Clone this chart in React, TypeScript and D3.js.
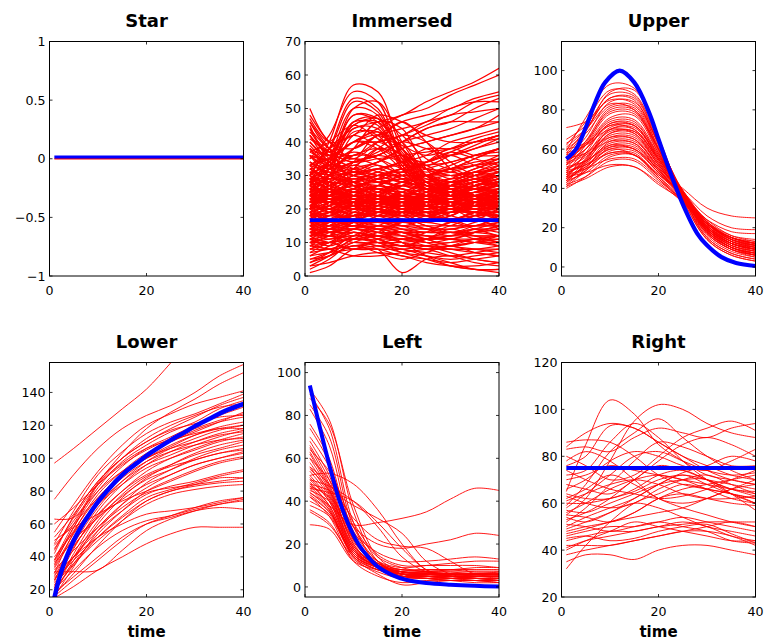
import React from "react";
import * as d3 from "d3";

// time points at which each red trajectory is sampled
const T9 = [1, 5, 10, 15, 20, 25, 30, 35, 40];
const X_TICKS = [0, 20, 40];

// ---------- Star ----------
const STAR_RED = [
  [0, 0, 0, 0, 0, 0, 0, 0, 0],
];
const STAR_BLUE_T = [1, 40];
const STAR_BLUE = [0, 0];
const STAR_Y_TICKS = [-1, -0.5, 0, 0.5, 1];

// ---------- Immersed ----------
const IMM_RED = [
  [30, 40, 57, 55, 38, 30, 28, 30, 32],
  [35, 42, 55, 52, 36, 28, 27, 28, 30],
  [28, 38, 53, 50, 35, 26, 24, 25, 27],
  [40, 36, 50, 52, 40, 30, 26, 24, 22],
  [25, 35, 50, 48, 32, 26, 26, 28, 30],
  [32, 34, 48, 46, 33, 27, 26, 27, 28],
  [22, 30, 46, 47, 36, 28, 25, 24, 24],
  [38, 33, 44, 44, 34, 28, 27, 26, 25],
  [20, 28, 42, 43, 34, 27, 24, 22, 22],
  [45, 36, 40, 42, 38, 30, 26, 24, 23],
  [25, 30, 38, 46, 44, 32, 26, 24, 24],
  [30, 28, 34, 42, 40, 30, 25, 23, 22],
  [22, 26, 32, 38, 36, 28, 24, 22, 22],
  [30, 38, 44, 46, 48, 52, 55, 58, 62],
  [28, 34, 40, 44, 48, 50, 54, 57, 60],
  [50, 40, 38, 42, 46, 48, 50, 53, 55],
  [46, 38, 36, 40, 42, 46, 48, 52, 54],
  [26, 30, 34, 36, 40, 44, 46, 50, 53],
  [36, 32, 34, 36, 40, 42, 44, 47, 50],
  [24, 28, 32, 34, 38, 40, 42, 44, 48],
  [44, 35, 32, 34, 38, 40, 42, 44, 46],
  [20, 26, 30, 32, 34, 36, 40, 42, 44],
  [38, 32, 30, 32, 34, 38, 38, 40, 42],
  [18, 22, 26, 30, 32, 34, 36, 38, 40],
  [34, 30, 28, 30, 30, 32, 34, 36, 38],
  [42, 34, 30, 28, 30, 34, 38, 36, 36],
  [28, 30, 32, 30, 28, 30, 32, 34, 35],
  [22, 24, 26, 24, 22, 22, 24, 26, 28],
  [20, 22, 24, 22, 20, 21, 22, 24, 26],
  [24, 26, 28, 26, 24, 24, 25, 26, 27],
  [18, 20, 22, 21, 20, 20, 21, 22, 24],
  [26, 24, 22, 22, 23, 24, 24, 25, 25],
  [16, 18, 20, 20, 19, 19, 20, 21, 22],
  [28, 26, 24, 23, 22, 22, 23, 24, 24],
  [21, 20, 20, 19, 19, 20, 21, 22, 23],
  [19, 21, 23, 22, 21, 22, 22, 23, 21],
  [23, 22, 21, 21, 20, 21, 22, 22, 22],
  [25, 23, 22, 20, 19, 19, 20, 21, 21],
  [17, 19, 21, 22, 22, 21, 20, 20, 20],
  [27, 25, 24, 24, 23, 22, 22, 21, 20],
  [20, 21, 22, 23, 24, 23, 22, 21, 20],
  [24, 22, 20, 19, 18, 18, 19, 19, 19],
  [18, 19, 19, 18, 18, 18, 19, 19, 18],
  [22, 22, 22, 22, 21, 21, 20, 20, 19],
  [26, 25, 24, 23, 22, 21, 20, 19, 18],
  [15, 16, 18, 19, 19, 18, 17, 17, 17],
  [30, 27, 25, 23, 22, 21, 20, 20, 21],
  [21, 23, 25, 26, 25, 24, 23, 22, 21],
  [19, 18, 18, 18, 17, 17, 17, 18, 18],
  [24, 24, 23, 22, 21, 20, 20, 21, 22],
  [33, 28, 25, 24, 23, 22, 22, 23, 24],
  [20, 20, 21, 21, 22, 22, 23, 24, 25],
  [17, 17, 18, 18, 18, 19, 20, 21, 22],
  [23, 24, 25, 25, 24, 23, 22, 21, 21],
  [29, 28, 27, 26, 25, 24, 24, 24, 25],
  [31, 30, 28, 27, 26, 25, 25, 26, 27],
  [25, 27, 29, 28, 27, 26, 26, 27, 28],
  [27, 29, 31, 30, 28, 27, 27, 28, 29],
  [22, 23, 24, 24, 23, 23, 23, 24, 24],
  [18, 20, 21, 20, 19, 19, 19, 20, 20],
  [14, 13, 13, 12, 12, 12, 12, 12, 12],
  [12, 12, 11, 11, 11, 11, 11, 11, 11],
  [15, 14, 14, 13, 13, 13, 13, 14, 14],
  [10, 11, 12, 12, 11, 10, 10, 11, 12],
  [8, 10, 14, 12, 10, 9, 9, 10, 10],
  [6, 9, 13, 11, 9, 8, 8, 8, 9],
  [4, 7, 12, 10, 8, 7, 6, 7, 8],
  [2, 5, 10, 9, 7, 6, 5, 6, 7],
  [1, 3, 8, 8, 6, 5, 4, 5, 6],
  [3, 4, 6, 7, 6, 4, 3, 3, 4],
  [5, 6, 9, 8, 1, 5, 6, 5, 4],
  [7, 8, 10, 9, 8, 6, 4, 2, 2],
  [9, 10, 11, 10, 9, 8, 6, 4, 3],
  [11, 12, 13, 12, 11, 9, 7, 5, 4],
  [13, 13, 14, 13, 12, 10, 8, 7, 6],
  [14, 14, 15, 14, 13, 12, 11, 10, 9],
  [12, 13, 14, 15, 14, 13, 13, 12, 12],
  [10, 10, 11, 12, 13, 13, 13, 13, 14],
  [8, 8, 9, 10, 11, 11, 11, 10, 10],
  [6, 7, 8, 9, 9, 9, 8, 8, 8],
  [15, 15, 15, 15, 15, 15, 15, 15, 15],
  [16, 15, 14, 14, 14, 14, 14, 15, 16],
  [13, 12, 10, 10, 10, 11, 12, 13, 14],
  [11, 10, 8, 8, 8, 9, 10, 11, 12],
  [9, 8, 6, 6, 7, 8, 9, 10, 11],
  [16, 16, 16, 16, 16, 16, 15, 15, 15],
  [14, 15, 16, 16, 15, 14, 13, 13, 12],
  [12, 14, 16, 15, 13, 11, 9, 8, 7],
  [3, 6, 11, 10, 7, 5, 3, 2, 1],
  [10, 12, 15, 14, 10, 6, 3, 2, 2],
  [40, 34, 30, 30, 32, 33, 34, 36, 38],
  [36, 30, 28, 30, 31, 30, 30, 31, 32],
  [32, 30, 31, 32, 33, 32, 31, 30, 30],
  [38, 33, 30, 28, 27, 28, 29, 30, 31],
  [42, 36, 33, 38, 42, 40, 34, 30, 28],
  [44, 38, 35, 40, 46, 40, 32, 28, 27],
  [34, 32, 34, 36, 34, 30, 28, 29, 30],
  [26, 30, 38, 40, 36, 30, 27, 26, 26],
  [46, 38, 28, 26, 28, 30, 32, 33, 34],
  [30, 34, 40, 38, 32, 28, 28, 30, 33],
  [27, 32, 36, 35, 30, 27, 26, 27, 28],
  [43, 37, 34, 35, 36, 37, 38, 40, 42],
  [21, 24, 28, 30, 30, 30, 31, 33, 36],
  [23, 25, 27, 28, 29, 30, 32, 35, 38],
  [39, 33, 27, 24, 24, 25, 27, 29, 30],
  [48, 40, 35, 36, 40, 44, 46, 46, 46],
  [47, 40, 42, 48, 46, 42, 40, 40, 41],
  [37, 34, 31, 29, 26, 24, 24, 25, 26],
  [31, 27, 24, 22, 22, 23, 25, 27, 30],
  [29, 26, 23, 21, 20, 21, 23, 25, 28],
  [20, 23, 19, 22, 25, 21, 18, 22, 24],
  [17, 21, 24, 20, 18, 22, 25, 23, 20],
  [25, 21, 18, 22, 24, 20, 19, 23, 26],
  [13, 16, 20, 23, 19, 16, 18, 21, 19],
  [28, 24, 27, 23, 20, 23, 26, 24, 22],
  [19, 15, 18, 21, 24, 22, 18, 17, 20],
  [22, 26, 23, 19, 21, 25, 27, 24, 21],
  [16, 19, 22, 25, 27, 24, 21, 19, 18],
  [24, 20, 17, 19, 22, 24, 22, 20, 23],
  [11, 14, 17, 16, 19, 21, 20, 17, 15],
  [27, 23, 21, 24, 26, 23, 21, 23, 26],
  [14, 17, 15, 18, 21, 19, 17, 19, 22],
  [21, 18, 22, 26, 23, 20, 22, 25, 27],
  [18, 22, 26, 24, 20, 17, 19, 22, 20],
  [30, 26, 23, 25, 28, 26, 24, 27, 29],
  [12, 15, 19, 17, 15, 17, 20, 18, 16],
  [23, 27, 31, 28, 24, 22, 25, 28, 30],
  [26, 22, 20, 23, 27, 29, 26, 23, 22],
  [15, 13, 16, 20, 22, 19, 16, 18, 21],
  [19, 23, 21, 18, 20, 23, 21, 19, 17],
  [29, 31, 28, 25, 27, 30, 32, 29, 27],
  [10, 13, 16, 19, 17, 14, 16, 19, 17],
  [24, 22, 25, 27, 24, 21, 23, 26, 24],
  [17, 20, 18, 16, 19, 22, 24, 21, 18],
  [32, 28, 25, 27, 30, 28, 26, 28, 31],
  [13, 11, 14, 17, 15, 13, 15, 17, 14],
  [22, 25, 29, 26, 23, 25, 28, 26, 23],
  [27, 25, 22, 20, 23, 26, 24, 22, 25],
  [16, 18, 21, 24, 22, 20, 23, 25, 23],
  [20, 17, 15, 18, 20, 18, 16, 18, 19],
  [34, 30, 27, 29, 32, 30, 28, 30, 33],
  [9, 12, 15, 13, 11, 13, 16, 14, 12],
  [25, 28, 26, 23, 25, 28, 30, 27, 25],
  [18, 16, 19, 22, 20, 18, 20, 22, 21],
  [31, 27, 30, 33, 30, 27, 29, 32, 34],
  [14, 16, 18, 21, 23, 21, 19, 21, 24],
  [23, 19, 21, 24, 27, 25, 22, 21, 24],
  [28, 30, 33, 31, 28, 26, 28, 31, 33],
  [12, 14, 12, 15, 17, 15, 13, 15, 17],
  [26, 29, 27, 24, 22, 24, 27, 29, 27],
  [19, 21, 24, 27, 25, 22, 24, 27, 29],
  [15, 18, 16, 14, 16, 19, 17, 15, 18],
  [33, 35, 32, 29, 31, 34, 36, 33, 31],
  [21, 24, 22, 20, 23, 21, 19, 22, 25],
  [11, 9, 12, 15, 13, 11, 12, 14, 13],
  [29, 26, 24, 27, 29, 27, 25, 27, 29],
  [17, 14, 17, 20, 18, 16, 18, 21, 23],
  [24, 27, 30, 32, 29, 26, 24, 26, 28],
  [36, 33, 36, 38, 34, 31, 33, 36, 37],
  [7, 10, 13, 11, 9, 11, 13, 11, 9],
  [20, 22, 25, 23, 21, 24, 26, 24, 22],
  [27, 24, 21, 19, 21, 24, 27, 30, 32],
  [13, 15, 18, 20, 18, 15, 14, 16, 18],
  [38, 36, 40, 43, 39, 36, 38, 41, 43],
  [22, 20, 23, 25, 28, 30, 28, 26, 27],
  [16, 13, 11, 13, 16, 14, 12, 14, 16],
  [30, 34, 37, 35, 32, 30, 32, 35, 38],
  [5, 7, 10, 12, 10, 8, 9, 11, 10],
  [25, 23, 26, 29, 26, 23, 21, 23, 26],
  [18, 20, 23, 21, 24, 26, 24, 22, 20],
  [41, 37, 34, 37, 40, 38, 36, 38, 41],
  [35, 38, 42, 39, 35, 33, 36, 39, 42],
  [10, 8, 11, 14, 12, 10, 11, 13, 15],
  [23, 25, 22, 19, 21, 18, 17, 19, 22],
  [32, 29, 31, 34, 36, 33, 30, 32, 35],
  [14, 12, 14, 16, 14, 12, 11, 13, 15],
  [26, 24, 26, 29, 32, 29, 27, 29, 31],
  [19, 17, 20, 23, 21, 19, 21, 24, 26],
  [8, 10, 8, 11, 13, 11, 9, 10, 12],
  [29, 32, 35, 33, 31, 34, 37, 35, 33],
  [21, 19, 17, 19, 22, 24, 21, 19, 21],
  [37, 40, 45, 41, 36, 34, 37, 40, 42],
  [12, 10, 13, 11, 9, 11, 14, 12, 10],
  [24, 26, 24, 22, 25, 27, 25, 23, 25],
  [17, 19, 17, 20, 18, 21, 23, 20, 19],
  [33, 31, 29, 31, 34, 32, 29, 31, 34],
  [4, 6, 9, 7, 5, 7, 9, 7, 6],
  [28, 25, 28, 31, 29, 26, 28, 31, 29],
  [15, 17, 20, 18, 16, 18, 20, 22, 20],
  [20, 24, 28, 25, 22, 19, 21, 24, 23],
  [33, 38, 52, 49, 35, 27, 25, 27, 29],
  [27, 34, 48, 47, 37, 30, 28, 29, 31],
  [36, 35, 46, 45, 33, 26, 24, 26, 28],
  [24, 32, 45, 46, 38, 32, 30, 31, 32],
  [31, 33, 43, 42, 32, 25, 23, 24, 25],
  [42, 37, 45, 47, 42, 35, 32, 33, 35],
  [29, 33, 38, 42, 44, 46, 50, 52, 52],
  [33, 35, 40, 40, 42, 45, 48, 49, 50],
];
const IMM_BLUE_T = [1, 40];
const IMM_BLUE = [16.7, 16.7];
const IMM_Y_TICKS = [0, 10, 20, 30, 40, 50, 60, 70];

// ---------- Upper ----------
const UPPER_RED = [
  [59, 76, 93, 91, 66, 35, 14, 6, 3],
  [62, 74, 90, 88, 64, 36, 15, 7, 4],
  [71, 74, 85, 83, 63, 38, 18, 9, 5],
  [65, 72, 88, 87, 63, 37, 17, 9, 6],
  [58, 70, 86, 86, 62, 36, 16, 8, 5],
  [55, 66, 84, 84, 63, 38, 18, 10, 7],
  [60, 68, 82, 82, 61, 37, 19, 11, 8],
  [52, 64, 81, 81, 60, 37, 17, 9, 6],
  [56, 64, 79, 79, 58, 36, 18, 10, 7],
  [50, 62, 78, 78, 60, 39, 20, 12, 9],
  [54, 62, 76, 77, 58, 38, 20, 11, 8],
  [48, 60, 75, 75, 57, 37, 19, 10, 6],
  [57, 62, 74, 74, 56, 38, 21, 13, 10],
  [45, 58, 73, 73, 57, 38, 20, 12, 9],
  [52, 60, 72, 72, 55, 37, 19, 12, 10],
  [49, 57, 71, 72, 56, 39, 22, 14, 11],
  [60, 63, 72, 70, 54, 36, 18, 10, 7],
  [46, 55, 70, 70, 54, 37, 21, 13, 9],
  [53, 58, 69, 69, 53, 36, 20, 12, 8],
  [43, 53, 68, 69, 55, 39, 23, 14, 11],
  [50, 56, 67, 67, 52, 37, 21, 14, 12],
  [47, 54, 66, 66, 52, 37, 22, 15, 12],
  [44, 52, 65, 65, 51, 36, 20, 12, 9],
  [55, 58, 66, 65, 50, 35, 19, 11, 8],
  [42, 50, 64, 64, 51, 37, 22, 14, 10],
  [48, 53, 63, 63, 50, 36, 21, 13, 11],
  [45, 51, 62, 62, 49, 36, 22, 15, 13],
  [41, 49, 61, 61, 49, 37, 23, 15, 12],
  [51, 54, 61, 60, 48, 35, 20, 12, 9],
  [46, 51, 60, 60, 48, 36, 22, 14, 11],
  [43, 49, 59, 59, 48, 37, 24, 16, 13],
  [49, 52, 58, 58, 46, 34, 20, 13, 10],
  [44, 48, 57, 57, 46, 35, 22, 15, 12],
  [40, 46, 56, 57, 47, 36, 23, 16, 14],
  [47, 50, 55, 55, 45, 34, 22, 14, 11],
  [42, 46, 54, 54, 44, 34, 22, 15, 12],
  [46, 48, 52, 51, 43, 33, 22, 15, 12],
  [41, 45, 51, 51, 42, 34, 24, 18, 17],
  [50, 54, 62, 60, 50, 40, 30, 26, 25],
  [48, 52, 60, 57, 47, 38, 26, 20, 19],
  [61, 70, 86, 85, 60, 34, 14, 6, 3],
  [57, 69, 89, 90, 65, 36, 15, 7, 4],
  [63, 70, 83, 80, 59, 35, 17, 9, 6],
  [53, 63, 80, 80, 60, 38, 19, 10, 7],
  [44, 54, 70, 71, 55, 38, 22, 13, 10],
  [58, 62, 70, 68, 52, 36, 19, 11, 7],
  [47, 55, 68, 68, 53, 38, 23, 15, 11],
  [52, 57, 64, 63, 49, 36, 21, 12, 9],
  [45, 50, 58, 57, 45, 33, 20, 12, 9],
  [54, 60, 73, 72, 55, 37, 18, 10, 6],
];
const UPPER_BLUE_T = [1, 3, 5, 7, 9, 12, 15, 18, 20, 22, 25, 28, 30, 33, 36, 40];
const UPPER_BLUE = [55, 60, 71, 84, 94, 100, 94, 79, 65, 51, 32, 17, 11, 5, 2, 0.5];
const UPPER_Y_TICKS = [0, 20, 40, 60, 80, 100];

// ---------- Lower ----------
const LOWER_RED = [
  [97, 106, 118, 130, 142, 158, 175, 185, 195],
  [75, 90, 106, 118, 126, 132, 140, 150, 157],
  [63, 64, 85, 103, 118, 128, 136, 145, 152],
  [55, 72, 92, 108, 120, 127, 133, 137, 141],
  [48, 68, 90, 104, 115, 122, 127, 133, 139],
  [42, 65, 86, 100, 110, 118, 125, 132, 137],
  [38, 60, 82, 98, 108, 116, 122, 130, 135],
  [35, 58, 80, 95, 106, 113, 120, 126, 131],
  [30, 55, 78, 92, 103, 110, 116, 122, 128],
  [25, 50, 74, 90, 102, 110, 117, 122, 125],
  [45, 62, 80, 92, 100, 107, 114, 119, 122],
  [28, 48, 70, 86, 98, 106, 112, 117, 120],
  [22, 45, 68, 84, 96, 104, 110, 115, 118],
  [33, 52, 72, 86, 96, 102, 108, 113, 117],
  [20, 42, 65, 80, 92, 100, 106, 111, 115],
  [40, 55, 72, 84, 94, 100, 105, 110, 113],
  [18, 38, 60, 76, 88, 96, 103, 108, 111],
  [26, 46, 66, 80, 90, 96, 102, 106, 110],
  [16, 34, 56, 72, 85, 93, 100, 105, 108],
  [30, 47, 64, 77, 87, 93, 99, 103, 106],
  [36, 50, 64, 75, 84, 90, 96, 100, 104],
  [24, 40, 58, 72, 82, 90, 96, 100, 103],
  [19, 36, 54, 68, 80, 87, 93, 98, 101],
  [50, 58, 66, 74, 80, 86, 92, 97, 100],
  [27, 40, 56, 68, 78, 83, 86, 90, 93],
  [21, 35, 52, 65, 76, 81, 85, 89, 92],
  [32, 44, 58, 70, 79, 82, 84, 86, 88],
  [17, 30, 47, 62, 74, 80, 83, 85, 86],
  [23, 36, 50, 62, 72, 78, 81, 83, 84],
  [29, 40, 52, 60, 66, 68, 70, 73, 76],
  [20, 32, 46, 56, 62, 65, 69, 72, 75],
  [31, 31, 32, 44, 56, 63, 68, 72, 74],
  [18, 28, 40, 52, 60, 64, 68, 70, 69],
  [15, 22, 32, 40, 48, 54, 58, 58, 58],
  [16, 26, 38, 50, 60, 65, 70, 74, 76],
  [26, 38, 52, 64, 74, 80, 84, 88, 88],
  [37, 56, 76, 90, 100, 108, 114, 118, 120],
  [60, 70, 84, 96, 105, 112, 118, 123, 127],
  [44, 64, 84, 97, 106, 111, 115, 118, 118],
  [34, 54, 74, 88, 98, 104, 108, 111, 112],
  [21, 40, 62, 78, 89, 95, 99, 103, 105],
  [47, 60, 76, 90, 100, 106, 110, 114, 116],
  [38, 58, 84, 100, 112, 120, 126, 131, 133],
  [52, 66, 86, 100, 110, 117, 121, 125, 126],
];
const LOWER_BLUE_T = [1, 2, 3, 4, 5, 6, 7, 8, 10, 12, 14, 16, 18, 20, 22, 25, 28, 30, 33, 36, 40];
const LOWER_BLUE = [15, 27, 36, 43.5, 50, 55.5, 60.5, 65, 73.5, 80.5, 87, 92.5, 97, 101.5, 105.5, 111, 116, 119.5, 124, 128.5, 133];
const LOWER_Y_TICKS = [20, 40, 60, 80, 100, 120, 140];

// ---------- Left ----------
const LEFT_RED = [
  [92, 78, 35, 12, 6, 4, 3, 3, 2],
  [90, 74, 30, 10, 5, 4, 3, 2, 2],
  [85, 70, 28, 12, 6, 5, 4, 3, 3],
  [83, 66, 25, 10, 5, 4, 3, 3, 2],
  [76, 60, 24, 11, 6, 5, 4, 4, 3],
  [74, 58, 22, 10, 5, 4, 4, 3, 3],
  [68, 52, 22, 10, 6, 5, 5, 4, 4],
  [66, 50, 20, 10, 6, 5, 4, 4, 3],
  [65, 48, 21, 11, 7, 6, 5, 5, 5],
  [63, 47, 20, 9, 5, 5, 4, 4, 4],
  [62, 46, 19, 10, 6, 6, 6, 5, 5],
  [60, 45, 18, 9, 6, 5, 5, 5, 4],
  [58, 44, 19, 10, 7, 7, 6, 6, 6],
  [56, 43, 18, 9, 6, 6, 5, 5, 5],
  [54, 42, 17, 10, 7, 6, 6, 6, 7],
  [52, 41, 18, 11, 7, 7, 7, 7, 7],
  [51, 40, 17, 9, 5, 5, 5, 5, 5],
  [50, 40, 16, 10, 7, 7, 8, 8, 8],
  [49, 38, 17, 11, 8, 8, 8, 9, 9],
  [48, 38, 16, 9, 6, 6, 6, 6, 6],
  [47, 37, 15, 9, 7, 7, 7, 6, 6],
  [46, 44, 40, 30, 18, 8, 5, 4, 4],
  [44, 38, 29, 30, 32, 35, 41, 46, 45],
  [44, 36, 15, 9, 6, 6, 6, 6, 6],
  [43, 35, 15, 8, 5, 5, 5, 5, 5],
  [42, 35, 16, 10, 8, 8, 8, 8, 8],
  [40, 34, 14, 8, 6, 6, 6, 6, 6],
  [38, 33, 15, 9, 7, 7, 6, 6, 6],
  [36, 30, 13, 7, 4, 4, 4, 4, 4],
  [35, 29, 14, 8, 6, 6, 6, 6, 6],
  [29, 27, 12, 8, 6, 6, 6, 6, 6],
  [52, 53, 48, 36, 20, 8, 5, 4, 4],
  [50, 47, 40, 28, 14, 7, 5, 4, 3],
  [48, 45, 38, 32, 25, 12, 6, 4, 4],
  [56, 48, 32, 22, 19, 18, 12, 6, 5],
  [47, 42, 28, 20, 18, 20, 22, 25, 24],
  [45, 40, 25, 16, 12, 12, 13, 14, 13],
  [55, 45, 22, 12, 9, 10, 11, 12, 12],
  [60, 50, 28, 14, 9, 7, 6, 5, 5],
  [70, 56, 26, 12, 8, 8, 8, 7, 7],
  [88, 76, 38, 14, 7, 6, 5, 5, 5],
  [64, 54, 30, 15, 10, 10, 10, 10, 9],
  [46, 36, 14, 6, 1, 2, 3, 3, 3],
  [42, 33, 12, 5, 2, 3, 3, 3, 3],
];
const LEFT_BLUE_T = [1, 3, 5, 7, 9, 11, 13, 15, 18, 21, 25, 30, 35, 40];
const LEFT_BLUE = [94, 75, 57, 41, 29, 20, 14, 9.5, 5.5, 3.2, 1.8, 1, 0.5, 0.2];
const LEFT_Y_TICKS = [0, 20, 40, 60, 80, 100];

// ---------- Right ----------
const RIGHT_RED = [
  [65, 85, 104, 98, 85, 78, 72, 70, 68],
  [55, 62, 78, 95, 102, 100, 94, 90, 88],
  [86, 87, 86, 80, 72, 68, 66, 64, 62],
  [83, 84, 82, 88, 92, 90, 88, 92, 94],
  [80, 76, 70, 72, 80, 88, 92, 95, 91],
  [76, 80, 93, 92, 86, 80, 76, 72, 70],
  [72, 74, 86, 94, 88, 78, 70, 64, 60],
  [68, 66, 64, 70, 78, 85, 88, 85, 80],
  [66, 70, 78, 82, 80, 76, 74, 78, 83],
  [64, 62, 62, 66, 72, 74, 70, 66, 63],
  [62, 66, 72, 68, 62, 58, 55, 52, 50],
  [60, 60, 62, 65, 70, 72, 70, 68, 66],
  [58, 64, 72, 80, 82, 78, 74, 72, 73],
  [56, 60, 66, 70, 72, 70, 68, 66, 64],
  [54, 52, 56, 62, 68, 73, 76, 80, 78],
  [52, 58, 68, 78, 86, 84, 80, 76, 76],
  [50, 54, 58, 62, 68, 72, 68, 64, 62],
  [48, 50, 52, 56, 62, 66, 68, 70, 72],
  [46, 48, 50, 50, 52, 54, 52, 50, 48],
  [44, 46, 48, 48, 50, 51, 52, 52, 52],
  [41, 44, 46, 48, 50, 52, 50, 46, 44],
  [38, 40, 42, 44, 46, 48, 48, 46, 42],
  [35, 38, 38, 36, 40, 42, 42, 40, 38],
  [32, 42, 52, 60, 64, 68, 66, 64, 60],
  [84, 90, 94, 92, 86, 80, 74, 70, 68],
  [63, 60, 58, 60, 66, 70, 72, 68, 64],
  [57, 56, 60, 64, 68, 70, 70, 64, 57],
  [49, 52, 56, 60, 58, 54, 50, 48, 46],
  [45, 46, 44, 45, 48, 50, 51, 47, 43],
  [59, 68, 82, 90, 96, 88, 80, 74, 70],
  [53, 56, 62, 70, 76, 74, 70, 66, 65],
  [61, 64, 68, 70, 68, 64, 62, 62, 63],
  [47, 49, 52, 54, 56, 58, 62, 66, 70],
  [42, 42, 42, 44, 46, 48, 50, 52, 50],
  [70, 72, 76, 74, 72, 70, 66, 62, 60],
  [51, 50, 48, 50, 52, 50, 48, 44, 43],
  [78, 82, 78, 70, 62, 60, 62, 66, 68],
  [55, 54, 52, 56, 62, 64, 62, 60, 59],
  [74, 70, 66, 64, 62, 63, 66, 70, 74],
  [40, 44, 48, 52, 50, 48, 46, 44, 44],
];
const RIGHT_BLUE_T = [1, 40];
const RIGHT_BLUE = [75, 75];
const RIGHT_Y_TICKS = [20, 40, 60, 80, 100, 120];

const FONT = "'DejaVu Sans', Verdana, sans-serif";

type PanelProps = {
  id: string;
  title: string;
  left: number;
  top: number;
  yDomain: [number, number];
  yTicks: number[];
  yFmt?: (v: number) => string;
  red: number[][];
  blueT: number[];
  blue: number[];
  blueWidth: number;
  blueShift?: number;
  redWidth?: number;
  xLabel?: boolean;
};

const W = 194;
const H = 234.5;
const TICK = 3;

function Panel(p: PanelProps) {
  const x = d3.scaleLinear().domain([0, 40]).range([p.left, p.left + W]);
  const y = d3.scaleLinear().domain(p.yDomain).range([p.top + H, p.top]);
  const line = d3
    .line<[number, number]>()
    .x((d) => x(d[0]))
    .y((d) => y(d[1]))
    .curve(d3.curveCatmullRom.alpha(0.5));
  const fmt = p.yFmt ?? ((v: number) => String(v));
  const bottom = p.top + H;
  const right = p.left + W;
  return (
    <g>
      <defs>
        <clipPath id={p.id}>
          <rect x={p.left} y={p.top} width={W} height={H} />
        </clipPath>
      </defs>
      <g clipPath={`url(#${p.id})`}>
        {p.red.map((r, i) => (
          <path
            key={i}
            d={line(T9.map((t, j) => [t, r[j]] as [number, number])) || ""}
            fill="none"
            stroke="#ff0000"
            strokeWidth={p.redWidth ?? 0.9}
          />
        ))}
        <path
          d={line(p.blueT.map((t, j) => [t, p.blue[j]] as [number, number])) || ""}
          fill="none"
          stroke="#0000ff"
          strokeWidth={p.blueWidth}
          transform={p.blueShift ? `translate(0,${p.blueShift})` : undefined}
        />
      </g>
      <rect x={p.left} y={p.top} width={W} height={H} fill="none" stroke="#000" strokeWidth={1} />
      {X_TICKS.map((t) => (
        <g key={"x" + t}>
          <line x1={x(t)} x2={x(t)} y1={bottom} y2={bottom - TICK} stroke="#000" strokeWidth={0.8} />
          <line x1={x(t)} x2={x(t)} y1={p.top} y2={p.top + TICK} stroke="#000" strokeWidth={0.8} />
          <text x={x(t)} y={bottom + 19} textAnchor="middle" fontSize={12.6} fontFamily={FONT} fill="#000">
            {t}
          </text>
        </g>
      ))}
      {p.yTicks.map((v) => (
        <g key={"y" + v}>
          <line x1={p.left} x2={p.left + TICK} y1={y(v)} y2={y(v)} stroke="#000" strokeWidth={0.8} />
          <line x1={right} x2={right - TICK} y1={y(v)} y2={y(v)} stroke="#000" strokeWidth={0.8} />
          <text
            x={p.left - 4}
            y={y(v) + 4.6}
            textAnchor="end"
            fontSize={12.6}
            fontFamily={FONT}
            fill="#000"
          >
            {fmt(v)}
          </text>
        </g>
      ))}
      <text
        x={p.left + W / 2}
        y={p.top - 14.5}
        textAnchor="middle"
        fontSize={18}
        fontWeight="bold"
        fontFamily={FONT}
        fill="#000"
      >
        {p.title}
      </text>
      {p.xLabel && (
        <text
          x={p.left + W / 2}
          y={bottom + 40}
          textAnchor="middle"
          fontSize={15}
          fontWeight="bold"
          fontFamily={FONT}
          fill="#000"
        >
          time
        </text>
      )}
    </g>
  );
}

const starFmt = (v: number) => (v < 0 ? "\u2212" + String(-v) : String(v));

export default function App() {
  const cols = [49.5, 305, 561.5];
  const rows = [41.5, 362.5];
  return (
    <svg
      width={765}
      height={642}
      style={{ position: "absolute", left: 0, top: 0, background: "#fff" }}
    >
      <rect x={0} y={0} width={765} height={642} fill="#fff" />
      <Panel id="c1" title="Star" left={cols[0]} top={rows[0]} yDomain={[-1, 1]} yTicks={STAR_Y_TICKS}
        yFmt={starFmt} red={STAR_RED} blueT={STAR_BLUE_T} blue={STAR_BLUE} blueWidth={3} blueShift={-1.8} redWidth={1.6} />
      <Panel id="c2" title="Immersed" left={cols[1]} top={rows[0]} yDomain={[0, 70]} yTicks={IMM_Y_TICKS}
        red={IMM_RED} blueT={IMM_BLUE_T} blue={IMM_BLUE} blueWidth={3.8} redWidth={1.25} />
      <Panel id="c3" title="Upper" left={cols[2]} top={rows[0]} yDomain={[-4.6, 114.8]} yTicks={UPPER_Y_TICKS}
        red={UPPER_RED} blueT={UPPER_BLUE_T} blue={UPPER_BLUE} blueWidth={4.2} />
      <Panel id="c4" title="Lower" left={cols[0]} top={rows[1]} yDomain={[15.6, 158.2]} yTicks={LOWER_Y_TICKS}
        red={LOWER_RED} blueT={LOWER_BLUE_T} blue={LOWER_BLUE} blueWidth={4.5} xLabel />
      <Panel id="c5" title="Left" left={cols[1]} top={rows[1]} yDomain={[-4.7, 104.7]} yTicks={LEFT_Y_TICKS}
        red={LEFT_RED} blueT={LEFT_BLUE_T} blue={LEFT_BLUE} blueWidth={4} xLabel />
      <Panel id="c6" title="Right" left={cols[2]} top={rows[1]} yDomain={[20, 120]} yTicks={RIGHT_Y_TICKS}
        red={RIGHT_RED} blueT={RIGHT_BLUE_T} blue={RIGHT_BLUE} blueWidth={4} xLabel />
    </svg>
  );
}
